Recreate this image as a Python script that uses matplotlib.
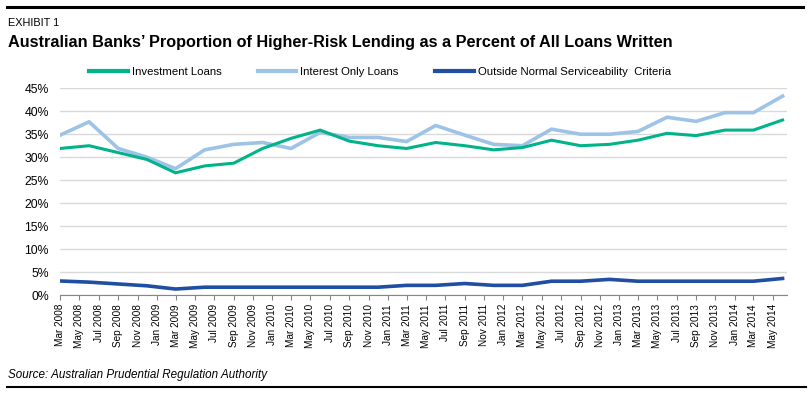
import matplotlib
matplotlib.use("Agg")
import matplotlib.pyplot as plt
from matplotlib.lines import Line2D
import pandas as pd

# data (quarterly), in percent
quarters = pd.date_range("2008-03-01", periods=26, freq="3MS")
investment = [31.9, 32.5, 31.0, 29.5, 26.6, 28.1, 28.7, 31.9, 34.1, 35.9, 33.5, 32.5,
              31.9, 33.2, 32.5, 31.6, 32.1, 33.7, 32.5, 32.8, 33.7, 35.2, 34.7, 35.9,
              35.9, 38.1]
interest_only = [34.8, 37.7, 31.9, 30.0, 27.5, 31.6, 32.8, 33.2, 31.9, 35.4, 34.3, 34.3,
                 33.4, 36.9, 34.8, 32.8, 32.5, 36.1, 35.0, 35.0, 35.6, 38.7, 37.8, 39.7,
                 39.7, 43.3]
outside_serv = [3.05, 2.8, 2.4, 2.0, 1.3, 1.7, 1.7, 1.7, 1.7, 1.7, 1.7, 1.7,
                2.1, 2.1, 2.5, 2.1, 2.1, 3.0, 3.0, 3.4, 3.0, 3.0, 3.0, 3.0,
                3.0, 3.6]
tick_dates = pd.date_range("2008-03-01", "2014-05-01", freq="2MS")
series_names = ["Investment Loans", "Interest Only Loans", "Outside Normal Serviceability  Criteria"]

GREEN = "#00b388"
LIGHT = "#9dc3e6"
DARK = "#1f4ea3"

plt.rcParams["font.family"] = ["Liberation Sans", "DejaVu Sans"]

fig = plt.figure(figsize=(8.10, 3.95), dpi=100)
ax = fig.add_axes([60 / 810, 1 - 295 / 395, (787 - 60) / 810, (295 - 88.3) / 395])

ax.plot(quarters, interest_only, color=LIGHT, lw=2.6, solid_joinstyle="miter", zorder=3)
ax.plot(quarters, investment, color=GREEN, lw=2.2, solid_joinstyle="miter", zorder=4)
ax.plot(quarters, outside_serv, color=DARK, lw=2.6, solid_joinstyle="miter", zorder=5)

ax.set_ylim(0, 45)
ax.set_yticks(range(0, 46, 5))
ax.set_yticklabels([f"{v}%" for v in range(0, 46, 5)])
ax.set_xlim(quarters[0], pd.Timestamp("2014-06-15"))
ax.set_xticks(tick_dates)
ax.set_xticklabels([d.strftime("%b %Y") for d in tick_dates], rotation=90, fontsize=7.2)

ax.grid(axis="y", color="#d9d9d9", lw=1)
ax.set_axisbelow(True)
for s in ["top", "right", "left"]:
    ax.spines[s].set_visible(False)
ax.spines["bottom"].set_color("#868686")
ax.tick_params(axis="y", length=0, pad=8, labelsize=8.8)
ax.tick_params(axis="x", length=3.5, color="#868686", pad=3)

handles = [Line2D([], [], color=GREEN, lw=3),
           Line2D([], [], color=LIGHT, lw=3),
           Line2D([], [], color=DARK, lw=3)]
fig.legend(handles, series_names, loc="center", bbox_to_anchor=(380 / 810, 1 - 72 / 395),
           ncol=3, frameon=False, fontsize=8.2, handlelength=3.4, handletextpad=0.35,
           columnspacing=3.2)

fig.text(8 / 810, 1 - 23 / 395, "EXHIBIT 1", fontsize=7.8, va="center")
fig.text(8 / 810, 1 - 42 / 395, "Australian Banks\u2019 Proportion of Higher-Risk Lending as a Percent of All Loans Written",
         fontsize=11.7, va="center", fontweight="bold")
fig.text(8 / 810, 1 - 375 / 395, "Source: Australian Prudential Regulation Authority",
         fontsize=8.4, va="center", style="italic")

fig.add_artist(Line2D([7 / 810, 803 / 810], [1 - 7 / 395, 1 - 7 / 395], color="black", lw=2.2))
fig.add_artist(Line2D([7 / 810, 806 / 810], [1 - 387 / 395, 1 - 387 / 395], color="black", lw=1.5))

fig.savefig("out.png", dpi=100)
